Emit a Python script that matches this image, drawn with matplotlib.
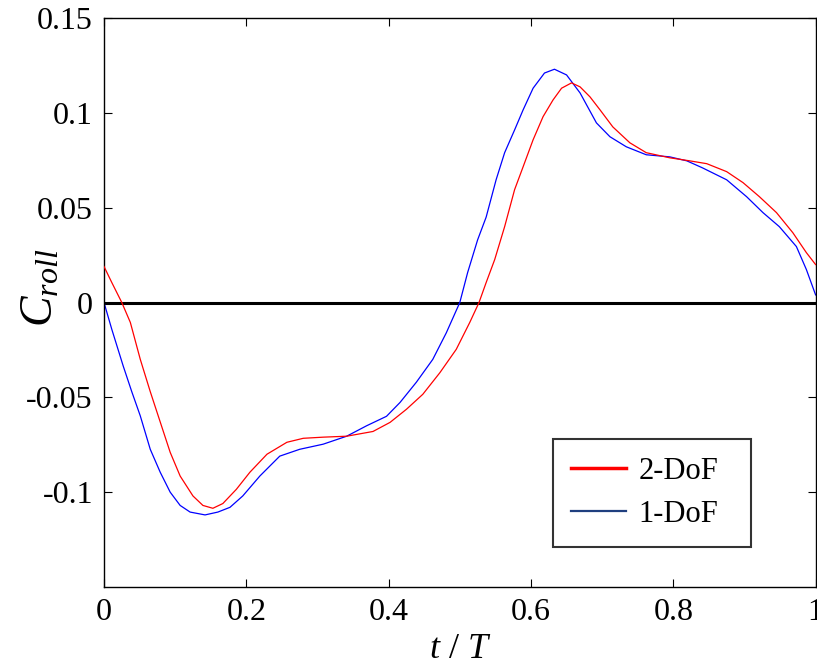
import matplotlib
matplotlib.use("Agg")
import matplotlib.pyplot as plt
from matplotlib.lines import Line2D

plt.rcParams['font.family'] = ['Liberation Serif', 'DejaVu Serif']
plt.rcParams['mathtext.fontset'] = 'custom'
plt.rcParams['mathtext.it'] = 'Liberation Serif:italic'
plt.rcParams['mathtext.rm'] = 'Liberation Serif'
plt.rcParams['axes.unicode_minus'] = False

# 1-DoF (blue)
t_1dof = [0.0, 0.011, 0.027, 0.039, 0.051, 0.065, 0.079, 0.093, 0.107, 0.121,
          0.142, 0.160, 0.177, 0.195, 0.219, 0.247, 0.275, 0.308, 0.341, 0.369,
          0.397, 0.416, 0.439, 0.462, 0.481, 0.500, 0.511, 0.525, 0.537, 0.551,
          0.563, 0.577, 0.589, 0.603, 0.619, 0.633, 0.650, 0.669, 0.692, 0.711,
          0.734, 0.762, 0.795, 0.819, 0.841, 0.875, 0.903, 0.926, 0.949, 0.973,
          0.987, 1.0]
c_1dof = [0.0, -0.0142, -0.0335, -0.047, -0.0598, -0.0774, -0.0895, -0.100, -0.107, -0.1105,
          -0.112, -0.1105, -0.108, -0.102, -0.0915, -0.081, -0.0774, -0.0747, -0.0705, -0.065,
          -0.060, -0.0527, -0.042, -0.030, -0.016, 0.0, 0.0158, 0.033, 0.045, 0.0647,
          0.079, 0.091, 0.1016, 0.113, 0.121, 0.123, 0.120, 0.1105, 0.0947, 0.0874,
          0.0821, 0.0779, 0.0768, 0.0747, 0.0710, 0.0647, 0.0558, 0.0474, 0.040, 0.0295,
          0.0174, 0.004]

# 2-DoF (red)
t_2dof = [0.0, 0.011, 0.025, 0.037, 0.051, 0.065, 0.079, 0.093, 0.107, 0.125,
          0.139, 0.153, 0.167, 0.186, 0.205, 0.229, 0.257, 0.280, 0.308, 0.341,
          0.378, 0.402, 0.425, 0.448, 0.472, 0.495, 0.514, 0.527, 0.537, 0.549,
          0.563, 0.577, 0.589, 0.603, 0.617, 0.631, 0.643, 0.657, 0.669, 0.683,
          0.697, 0.715, 0.739, 0.762, 0.795, 0.823, 0.847, 0.875, 0.898, 0.921,
          0.945, 0.968, 0.987, 1.0]
c_2dof = [0.019, 0.0105, 0.0, -0.0105, -0.030, -0.047, -0.063, -0.079, -0.0915, -0.102,
          -0.107, -0.1085, -0.106, -0.0985, -0.0895, -0.080, -0.0737, -0.0716, -0.071, -0.0705,
          -0.068, -0.0632, -0.0563, -0.0484, -0.037, -0.0247, -0.0105, 0.0, 0.0105, 0.0226,
          0.040, 0.0595, 0.0716, 0.0858, 0.098, 0.1068, 0.113, 0.1158, 0.1137, 0.1084,
          0.1016, 0.0926, 0.0842, 0.079, 0.0763, 0.0747, 0.0732, 0.069, 0.0632, 0.0558,
          0.0474, 0.0368, 0.0263, 0.020]

x_ticks = [0, 0.2, 0.4, 0.6, 0.8, 1.0]
x_labels = ['0', '0.2', '0.4', '0.6', '0.8', '1']
y_ticks = [-0.1, -0.05, 0, 0.05, 0.1, 0.15]
y_labels = ['-0.1', '-0.05', '0', '0.05', '0.1', '0.15']

fig = plt.figure(figsize=(8.17, 6.70), dpi=100)
ax = fig.add_axes([0.1273, 0.1239, 0.871, 0.8492])

ax.axhline(0, color='black', lw=2.2, zorder=1)
ax.plot(t_2dof, c_2dof, color='#ff0000', lw=0.9, zorder=3)
ax.plot(t_1dof, c_1dof, color='#0000ff', lw=0.9, zorder=2)

ax.set_xlim(0, 1)
ax.set_ylim(-0.15, 0.15)
ax.set_xticks(x_ticks)
ax.set_xticklabels(x_labels)
ax.set_yticks(y_ticks)
ax.set_yticklabels(y_labels)
ax.tick_params(direction='in', top=True, right=True, labelsize=23, length=6, width=0.8, pad=8)
for s in ax.spines.values():
    s.set_linewidth(1.0)

ax.set_xlabel(r'$t$ / $T$', fontsize=26, labelpad=4)
ax.set_ylabel(r'$C_{roll}$', fontsize=33)
ax.yaxis.set_label_coords(-0.058, 0.525)

handles = [Line2D([], [], color='#ff0000', lw=2.5),
           Line2D([], [], color='#1f3f7f', lw=1.6)]
leg = ax.legend(handles, ['2-DoF', '1-DoF'], loc='upper left',
                bbox_to_anchor=(0.631, 0.0722, 0.278, 0.1884), mode='expand',
                fontsize=22, frameon=True,
                fancybox=False, edgecolor='black', handlelength=1.8,
                handletextpad=0.4, labelspacing=0.45, borderpad=0.6,
                borderaxespad=0)
leg.get_frame().set_linewidth(1.5)

fig.savefig('out.png', dpi=100)
